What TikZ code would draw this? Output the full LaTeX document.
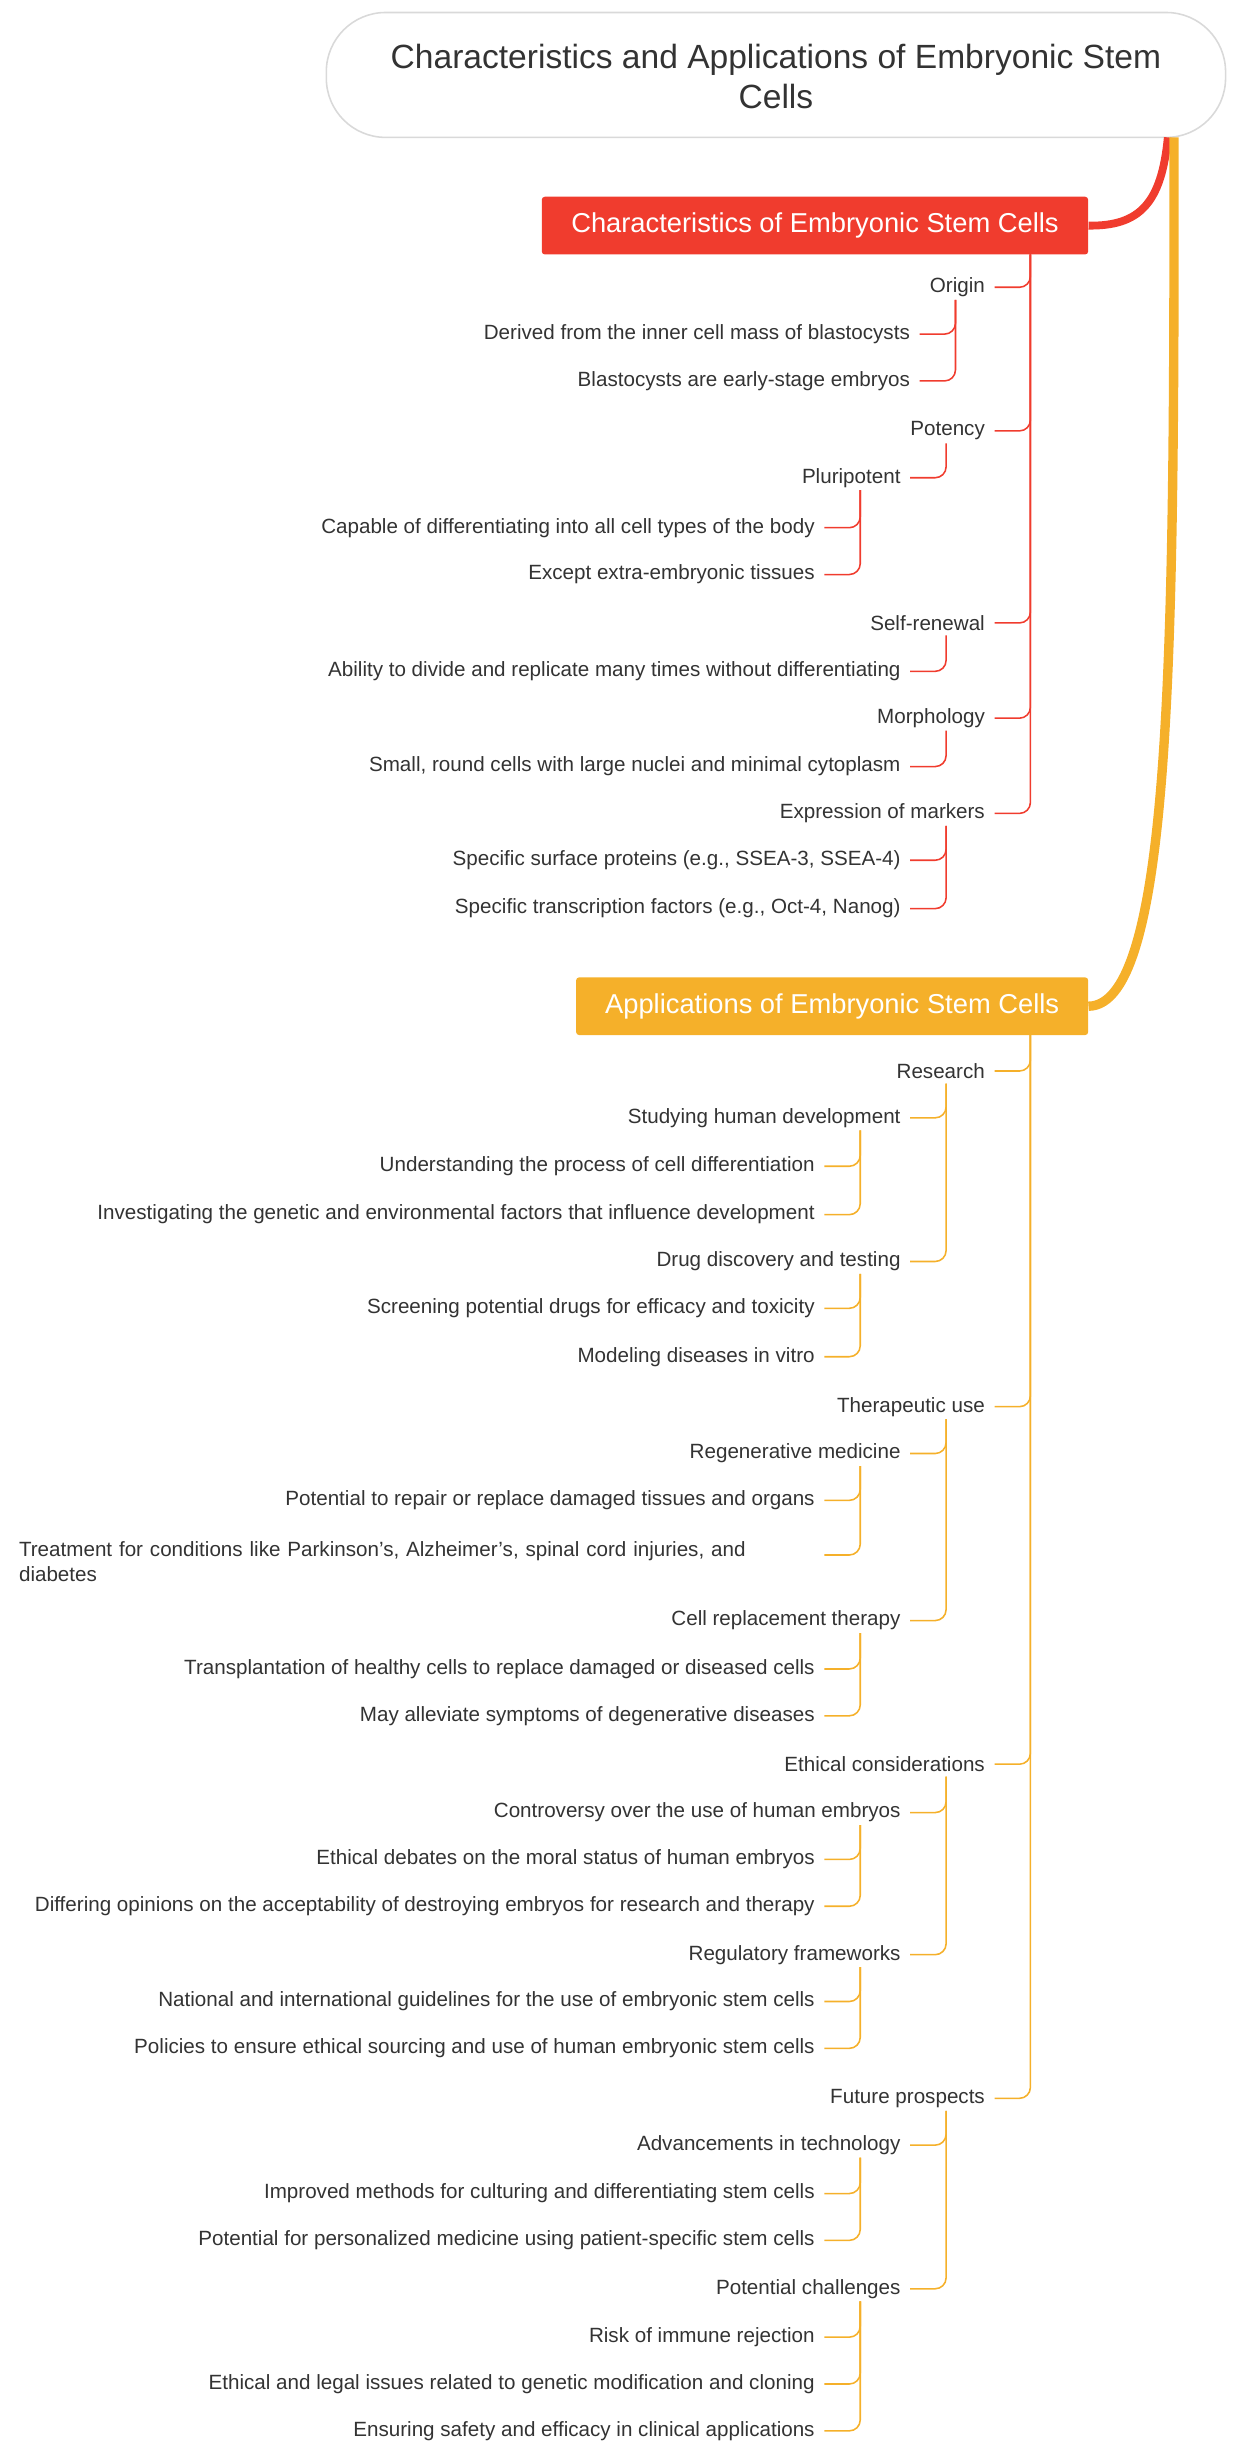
\documentclass[tikz,border=0pt]{standalone}
\usepackage{fontspec}
\setmainfont{Liberation Sans}
\definecolor{cR}{HTML}{F03C2E}
\definecolor{cO}{HTML}{F5B02A}
\definecolor{tx}{HTML}{333333}
\newcommand\itm[7]{\node[lab,anchor=east] (#1) at (#2,-#3) {#7};
\draw[#6,line width=1pt,rounded corners=7pt] (#4,-#5) |- ([xshift=3pt]#1.east);}
\begin{document}
\begin{tikzpicture}[x=1pt,y=1pt,lab/.style={font=\fontsize{13.2}{16}\selectfont,text=tx,inner sep=3pt}]
\useasboundingbox (0,0) rectangle (794,-1568);
% title
\node[draw=black!15,fill=white,rounded corners=38pt,minimum width=576pt,minimum height=80pt,line width=1pt] (title) at (497,-48) {};
\node[font=\fontsize{21.5}{26}\selectfont,text=tx,align=center] (tt) at (497,-49) {Characteristics and Applications of Embryonic Stem\\Cells};
\coordinate (tb) at (748,-88);
\node[fill=cR,rounded corners=2pt,minimum width=350pt,minimum height=37pt,text=white,font=\fontsize{17.5}{21}\selectfont] (rb) at (522,-144.5) {Characteristics of Embryonic Stem Cells};
\node[fill=cO,rounded corners=2pt,minimum width=328pt,minimum height=37pt,text=white,font=\fontsize{17.5}{21}\selectfont] (ob) at (533,-644.5) {Applications of Embryonic Stem Cells};
\draw[cR,line width=5pt] (tb) .. controls (744,-130) and (730,-145) .. (rb.east);
\draw[cO,line width=6pt] ([xshift=4pt]tb) .. controls (752,-400) and (752,-644) .. (ob.east);
% red section
\itm{o}{634}{184}{660}{163}{cR}{Origin}
\itm{o1}{586}{214}{612}{192}{cR}{Derived from the inner cell mass of blastocysts}
\itm{o2}{586}{244}{612}{192}{cR}{Blastocysts are early-stage embryos}
\itm{p}{634}{276}{660}{163}{cR}{Potency}
\itm{p1}{580}{306}{606}{284}{cR}{Pluripotent}
\itm{p11}{525}{338}{551}{314}{cR}{Capable of differentiating into all cell types of the body}
\itm{p12}{525}{368}{551}{314}{cR}{Except extra-embryonic tissues}
\itm{s}{634}{399}{660}{163}{cR}{Self-renewal}
\itm{s1}{580}{430}{606}{407}{cR}{Ability to divide and replicate many times without differentiating}
\itm{m}{634}{460}{660}{163}{cR}{Morphology}
\itm{m1}{580}{491}{606}{468}{cR}{Small, round cells with large nuclei and minimal cytoplasm}
\itm{e}{634}{521}{660}{163}{cR}{Expression of markers}
\itm{e1}{580}{551}{606}{529}{cR}{Specific surface proteins (e.g., SSEA-3, SSEA-4)}
\itm{e2}{580}{582}{606}{529}{cR}{Specific transcription factors (e.g., Oct-4, Nanog)}
% orange section
\itm{r}{634}{686}{660}{663}{cO}{Research}
\itm{r1}{580}{716}{606}{694}{cO}{Studying human development}
\itm{r11}{525}{747}{551}{724}{cO}{Understanding the process of cell differentiation}
\itm{r12}{525}{778}{551}{724}{cO}{Investigating the genetic and environmental factors that influence development}
\itm{r2}{580}{808}{606}{694}{cO}{Drug discovery and testing}
\itm{r21}{525}{838}{551}{816}{cO}{Screening potential drugs for efficacy and toxicity}
\itm{r22}{525}{869}{551}{816}{cO}{Modeling diseases in vitro}
\itm{t}{634}{901}{660}{663}{cO}{Therapeutic use}
\itm{t1}{580}{931}{606}{909}{cO}{Regenerative medicine}
\itm{t11}{525}{961}{551}{939}{cO}{Potential to repair or replace damaged tissues and organs}
\node[lab,anchor=west,align=left,text width=505pt] (t12) at (9,-1000) {Treatment for conditions like Parkinson's, Alzheimer's, spinal cord injuries, and\\diabetes};
\draw[cO,line width=1pt,rounded corners=7pt] (551,-939) |- (528,-996);
\itm{t2}{580}{1038}{606}{909}{cO}{Cell replacement therapy}
\itm{t21}{525}{1069}{551}{1046}{cO}{Transplantation of healthy cells to replace damaged or diseased cells}
\itm{t22}{525}{1099}{551}{1046}{cO}{May alleviate symptoms of degenerative diseases}
\itm{c}{634}{1130}{660}{663}{cO}{Ethical considerations}
\itm{c1}{580}{1161}{606}{1138}{cO}{Controversy over the use of human embryos}
\itm{c11}{525}{1191}{551}{1169}{cO}{Ethical debates on the moral status of human embryos}
\itm{c12}{525}{1221}{551}{1169}{cO}{Differing opinions on the acceptability of destroying embryos for research and therapy}
\itm{c2}{580}{1252}{606}{1138}{cO}{Regulatory frameworks}
\itm{c21}{525}{1282}{551}{1260}{cO}{National and international guidelines for the use of embryonic stem cells}
\itm{c22}{525}{1312}{551}{1260}{cO}{Policies to ensure ethical sourcing and use of human embryonic stem cells}
\itm{f}{634}{1344}{660}{663}{cO}{Future prospects}
\itm{f1}{580}{1374}{606}{1352}{cO}{Advancements in technology}
\itm{f11}{525}{1405}{551}{1382}{cO}{Improved methods for culturing and differentiating stem cells}
\itm{f12}{525}{1435}{551}{1382}{cO}{Potential for personalized medicine using patient-specific stem cells}
\itm{f2}{580}{1466}{606}{1352}{cO}{Potential challenges}
\itm{f21}{525}{1497}{551}{1474}{cO}{Risk of immune rejection}
\itm{f22}{525}{1527}{551}{1474}{cO}{Ethical and legal issues related to genetic modification and cloning}
\itm{f23}{525}{1557}{551}{1474}{cO}{Ensuring safety and efficacy in clinical applications}
\end{tikzpicture}
\end{document}
